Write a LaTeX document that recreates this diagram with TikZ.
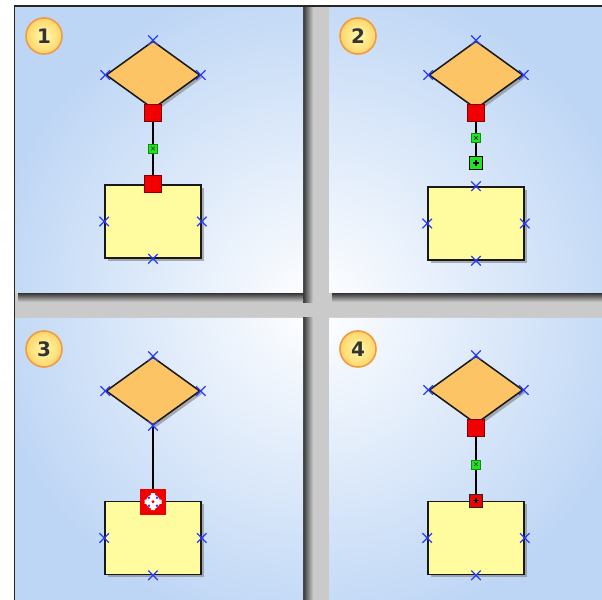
\documentclass[tikz,border=0pt]{standalone}
\usepackage{fontspec}
\setmainfont{DejaVu Sans}
\usetikzlibrary{calc,positioning,shapes.geometric,shapes.misc,shadows}
\definecolor{skyblue}{RGB}{190,214,245}
\definecolor{gapgrey}{RGB}{202,202,202}
\definecolor{decorange}{RGB}{252,196,101}
\definecolor{boxyellow}{RGB}{255,252,160}
\definecolor{pinred}{RGB}{240,0,0}
\definecolor{pingreen}{RGB}{30,230,30}
\definecolor{xblue}{RGB}{40,60,255}
\definecolor{badgein}{RGB}{255,250,175}
\definecolor{badgeout}{RGB}{255,214,105}
\definecolor{badgering}{RGB}{242,155,70}

\begin{document}
\begin{tikzpicture}[x=0.03cm,y=-0.03cm,
  decision/.style={diamond, draw=black!90, fill=decorange, line width=1.3pt, minimum width=2.82cm, minimum height=2.04cm, inner sep=0pt, drop shadow={opacity=0.6, shadow xshift=0.08cm, shadow yshift=-0.08cm}},
  block/.style={rectangle, draw=black!90, fill=boxyellow, line width=1.3pt, minimum width=2.88cm, minimum height=2.19cm, inner sep=0pt, drop shadow={opacity=0.6, shadow xshift=0.08cm, shadow yshift=-0.08cm}},
  wire/.style={line width=1.1pt, black},
  pin/.style={rectangle, fill=pinred, draw=pinred!55!black, line width=0.6pt, minimum size=0.51cm, inner sep=0pt},
  dot/.style={rectangle, fill=pingreen, draw=pingreen!60!black, line width=0.3pt, minimum size=0.27cm, inner sep=0pt,
    path picture={\draw[black!80, line width=0.5pt] (path picture bounding box.center) +(-1.8,-1.8) -- +(1.8,1.8) +(-1.8,1.8) -- +(1.8,-1.8);}},
  plusbox/.style={rectangle, line width=0.9pt, minimum size=0.39cm, inner sep=0pt,
    path picture={\draw[black, line width=1.1pt] (path picture bounding box.center) +(-2.6,0) -- +(2.6,0) +(0,-2.6) -- +(0,2.6);}},
  grab/.style={rectangle, fill=pinred, minimum size=0.78cm, inner sep=0pt,
    path picture={
      \fill[white] (path picture bounding box.center) circle (0.21cm);
      \fill[white] (path picture bounding box.center) +(-8.5,-2.2) rectangle +(8.5,2.2) +(-2.2,-8.5) rectangle +(2.2,8.5);
      \foreach \dx/\dy in {-4/-4,4/-4,-4/4,4/4} \fill[xblue] (path picture bounding box.center) +(\dx,\dy) circle (0.04cm);
      \fill[pinred] (path picture bounding box.center) circle (0.05cm);}},
  xmark/.style={cross out, draw=xblue, line width=1pt, minimum size=0.25cm, inner sep=0pt},
  badge/.style={circle, minimum size=1.08cm, inner sep=0pt, inner color=badgein, outer color=badgeout, draw=badgering, line width=1.4pt, text=black!80, font=\bfseries\fontsize{17}{17}\selectfont}]

  \useasboundingbox (0,0) rectangle (602,600);
  \fill[white] (0,0) rectangle (602,600);
  \fill[gapgrey] (15,7) rectangle (602,600);

  % panel shadows
  \foreach \l/\t/\r/\b in {15/7/303/293, 329/7/602/293, 15/318/303/600} {
    \shade[left color=black!80, right color=gapgrey] (\r,\t) rectangle (\r+10,\b+10);
    \shade[top color=black!80, bottom color=gapgrey] (\l+3,\b) rectangle (\r,\b+9);
  }

  % panels
  \begin{scope}
    \clip (15,7) rectangle (303,293) (329,7) rectangle (602,293) (15,318) rectangle (303,600) (329,318) rectangle (602,600);
    \shade[inner color=white, outer color=skyblue] (-14,-24) rectangle (646,636);
  \end{scope}
  \draw[line width=1.5pt, black!85] (14.5,600) -- (14.5,6) -- (602,6);

  % 1
  \begin{scope}
    \node[badge] (b1) at (44,36) {1};
    \node[decision] (dec1) at (153,75) {};
    \node[block] (box1) at (153,221.5) {};
    \node[pin] (pin1a) at ($(dec1.south)+(0,3)$) {};
    \node[pin] (pin1b) at (box1.north) {};
    \draw[wire] (pin1a) -- (pin1b);
    \node[dot] (dot1) at ($(pin1a)!0.5!(pin1b)$) {};
    \foreach \a in {north,west,east} \node[xmark] (xd1\a) at (dec1.\a) {};
    \foreach \a in {west,east,south} \node[xmark] (xb1\a) at (box1.\a) {};
  \end{scope}

  % 2
  \begin{scope}[shift={(323,0)}]
    \node[badge] (b2) at (35,36) {2};
    \node[decision] (dec2) at (153,75) {};
    \node[block] (box2) at (153,223.5) {};
    \node[pin] (pin2a) at ($(dec2.south)+(0,3)$) {};
    \node[plusbox, fill=pingreen, draw=black] (pin2b) at (153,163) {};
    \draw[wire] (pin2a) -- (pin2b);
    \node[dot] (dot2) at ($(pin2a)!0.5!(pin2b)$) {};
    \foreach \a in {north,west,east} \node[xmark] (xd2\a) at (dec2.\a) {};
    \foreach \a in {north,west,east,south} \node[xmark] (xb2\a) at (box2.\a) {};
  \end{scope}

  % 3
  \begin{scope}[shift={(0,316)}]
    \node[badge] (b3) at (44,33) {3};
    \node[decision] (dec3) at (153,75) {};
    \node[block] (box3) at (153,222) {};
    \draw[wire] (dec3) -- (box3);
    \node[grab] (grab3) at ($(box3.north)+(0,1)$) {};
    \foreach \a in {north,west,east,south} \node[xmark] (xd3\a) at (dec3.\a) {};
    \foreach \a in {west,east,south} \node[xmark] (xb3\a) at (box3.\a) {};
  \end{scope}

  % 4
  \begin{scope}[shift={(323,316)}]
    \node[badge] (b4) at (35,33) {4};
    \node[decision] (dec4) at (153,74) {};
    \node[block] (box4) at (153,222) {};
    \node[pin] (pin4a) at ($(dec4.south)+(0,3)$) {};
    \node[plusbox, fill=pinred, draw=black!85] (pin4b) at (box4.north) {};
    \draw[wire] (pin4a) -- (pin4b);
    \node[dot] (dot4) at ($(pin4a)!0.5!(pin4b)$) {};
    \foreach \a in {north,west,east} \node[xmark] (xd4\a) at (dec4.\a) {};
    \foreach \a in {west,east,south} \node[xmark] (xb4\a) at (box4.\a) {};
  \end{scope}
\end{tikzpicture}
\end{document}
